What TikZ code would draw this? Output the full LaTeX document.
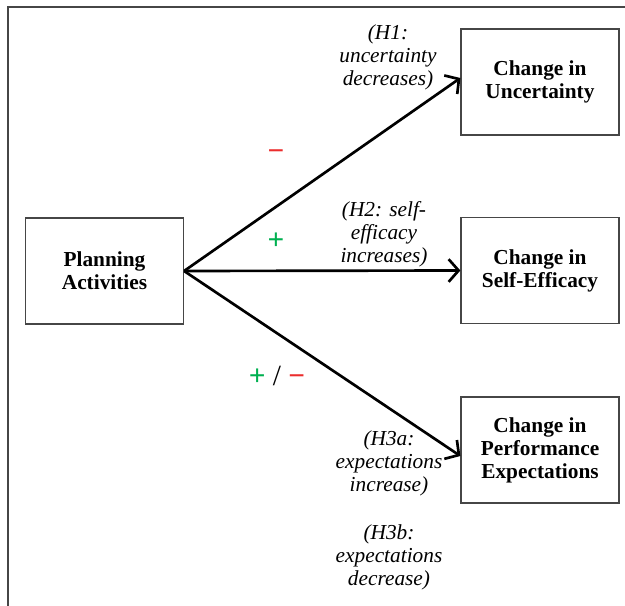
\documentclass[tikz,border=0pt]{standalone}
\usepackage{fontspec}
\setmainfont{Liberation Serif}
\usetikzlibrary{arrows.meta, positioning}
\definecolor{plusgreen}{RGB}{0,176,80}
\definecolor{minusred}{RGB}{235,45,45}
\definecolor{framegray}{RGB}{70,70,70}

\begin{document}
\begin{tikzpicture}[x=0.75pt, y=-0.75pt, >={Straight Barb[length=7.5pt, width=17pt]},
    box/.style={draw=framegray, line width=0.9pt, minimum width=118.5pt,
      minimum height=79.5pt, align=center,
      font=\fontsize{16}{17.3}\selectfont\bfseries},
    hyp/.style={align=center, inner sep=0pt,
      font=\fontsize{16}{17.3}\selectfont\itshape},
    sign/.style={inner sep=0pt, font=\fontsize{22}{22}\selectfont\bfseries},
    link/.style={->, line width=2pt}]
    \useasboundingbox (0,0) rectangle (625,606);
    \draw[framegray, line width=0.8pt] (8,606) -- (8,7) -- (625,7);

    \node[box] at (104.5,271) (plan) {Planning\\Activities};
    \node[box] at (540,82) (unc) {Change in\\Uncertainty};
    \node[box] at (540,270.5) (eff) {Change in\\Self-Efficacy};
    \node[box] at (540,450) (perf) {Change in\\Performance\\Expectations};

    \node[hyp] at (388,57) (h1) {(H1:\\uncertainty\\decreases)};
    \node[hyp] at (384,234) (h2) {(H2: self-\\efficacy\\increases)};
    \node[hyp] at (389,463) (h3a) {(H3a:\\expectations\\increase)};
    \node[hyp] at (389,557) (h3b) {(H3b:\\expectations\\decrease)};

    \node[sign, minusred] at (276,155) (m1) {−};
    \node[sign, plusgreen] at (276,241) (p2) {+};
    \node[sign] at (277,376) (pm3) {\textcolor{plusgreen}{+} {\mdseries/} \textcolor{minusred}{−}};

    \draw[link] (plan.east) -- ([yshift=3pt]unc.west);
    \draw[link] (plan.east) -- (eff.west);
    \draw[link] (plan.east) -- ([yshift=-4.5pt]perf.west);
\end{tikzpicture}
\end{document}
